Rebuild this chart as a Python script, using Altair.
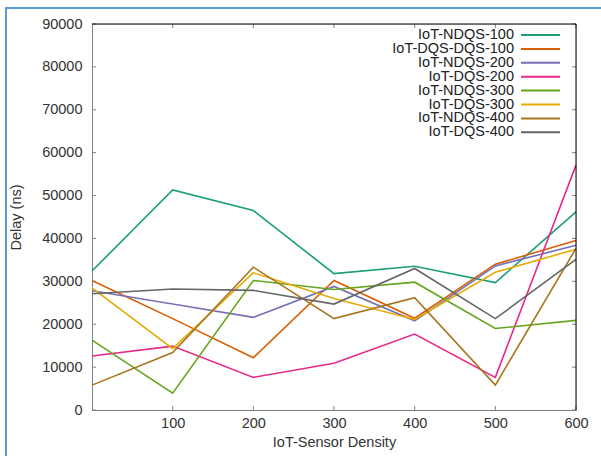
import altair as alt
import pandas as pd

# Sensor densities on the x axis
density = [0, 100, 200, 300, 400, 500, 600]

series_names = [
    "IoT-NDQS-100", "IoT-DQS-DQS-100", "IoT-NDQS-200", "IoT-DQS-200",
    "IoT-NDQS-300", "IoT-DQS-300", "IoT-NDQS-400", "IoT-DQS-400",
]
series_colors = [
    "#1b9e77", "#d95f02", "#7570b3", "#e7298a",
    "#66a61e", "#e6ab02", "#a6761d", "#666666",
]

# Delay (ns) per series, one value per density
ndqs_100 = [32400, 51300, 46500, 31800, 33500, 29700, 46200]
dqs_dqs_100 = [30200, 21300, 12200, 30200, 21400, 34000, 39500]
ndqs_200 = [27800, 24700, 21600, 28800, 20800, 33600, 38400]
dqs_200 = [12600, 14900, 7600, 10900, 17700, 7600, 57100]
ndqs_300 = [16300, 3900, 30200, 28100, 29800, 19000, 20900]
dqs_300 = [28500, 14300, 32000, 26000, 21100, 32100, 37500]
ndqs_400 = [5800, 13400, 33300, 21300, 26200, 5800, 37700]
dqs_400 = [27100, 28200, 27900, 24700, 33000, 21300, 35100]

all_series = [ndqs_100, dqs_dqs_100, ndqs_200, dqs_200,
              ndqs_300, dqs_300, ndqs_400, dqs_400]

x_ticks = [100, 200, 300, 400, 500, 600]
y_ticks = [0, 10000, 20000, 30000, 40000, 50000, 60000, 70000, 80000, 90000]

rows = []
for name, vals in zip(series_names, all_series):
    for d, v in zip(density, vals):
        rows.append({"series": name, "density": d, "delay": v})
df = pd.DataFrame(rows)

legend_df = pd.DataFrame({"series": series_names, "rank": list(range(len(series_names)))})

W, H = 484, 386
FONT = "Liberation Sans"
TEXT = "#333333"
AXIS_GRAY = "#808080"

x_scale = alt.Scale(domain=[0, 600], nice=False)
y_scale = alt.Scale(domain=[0, 90000], nice=False)
color_scale = alt.Scale(domain=series_names, range=series_colors)

x_axis = alt.Axis(
    values=x_ticks, format="d", ticks=False, grid=False, labelFlush=False,
    domainColor=AXIS_GRAY, labelFont=FONT, labelFontSize=14.5, labelColor=TEXT,
    labelPadding=6, title="IoT-Sensor Density", titleFont=FONT, titleFontSize=14.5,
    titleFontWeight="normal", titleColor=TEXT, titlePadding=6,
)
y_axis = alt.Axis(
    values=y_ticks, format="d", ticks=False, grid=False, labelFlush=False,
    domainColor=AXIS_GRAY, labelFont=FONT, labelFontSize=14.5, labelColor=TEXT,
    labelPadding=10, title="Delay (ns)", titleFont=FONT, titleFontSize=14.5,
    titleFontWeight="normal", titleColor=TEXT, titlePadding=18,
)

lines = alt.Chart(df).mark_line(strokeWidth=1.6).encode(
    x=alt.X("density:Q", scale=x_scale, axis=x_axis),
    y=alt.Y("delay:Q", scale=y_scale, axis=y_axis),
    color=alt.Color("series:N", scale=color_scale, legend=None),
)

# Inward tick marks on all four sides
xt_df = pd.DataFrame({"density": x_ticks})
yt_df = pd.DataFrame({"delay": y_ticks})
tick_style = dict(color=AXIS_GRAY, strokeWidth=1)

x_ticks_bottom = alt.Chart(xt_df).mark_rule(**tick_style).encode(
    x=alt.X("density:Q", scale=x_scale, axis=x_axis),
    y=alt.value(H), y2=alt.value(H - 4),
)
x_ticks_top = alt.Chart(xt_df).mark_rule(**tick_style).encode(
    x=alt.X("density:Q", scale=x_scale, axis=x_axis),
    y=alt.value(0), y2=alt.value(4),
)
y_ticks_left = alt.Chart(yt_df).mark_rule(**tick_style).encode(
    y=alt.Y("delay:Q", scale=y_scale, axis=y_axis),
    x=alt.value(0), x2=alt.value(4),
)
y_ticks_right = alt.Chart(yt_df).mark_rule(**tick_style).encode(
    y=alt.Y("delay:Q", scale=y_scale, axis=y_axis),
    x=alt.value(W), x2=alt.value(W - 4),
)

one = pd.DataFrame({"k": [0]})
border_top = alt.Chart(one).mark_rule(color="#000000", strokeWidth=1).encode(
    x=alt.value(0), x2=alt.value(W), y=alt.value(0)
)
border_right = alt.Chart(one).mark_rule(color="#000000", strokeWidth=1).encode(
    x=alt.value(W), y=alt.value(0), y2=alt.value(H)
)

# Light blue page frame
frame_left = alt.Chart(one).mark_rule(color="#5b9bd5", strokeWidth=2).encode(
    x=alt.value(-86), y=alt.value(-16), y2=alt.value(450)
)
frame_top = alt.Chart(one).mark_rule(color="#5b9bd5", strokeWidth=2).encode(
    x=alt.value(-87), x2=alt.value(520), y=alt.value(-16)
)

main = alt.layer(
    lines, x_ticks_bottom, x_ticks_top, y_ticks_left, y_ticks_right,
    border_top, border_right, frame_left, frame_top,
)

# Key in the top-right corner: label, then a line sample
leg_y = alt.Y("rank:Q", scale=alt.Scale(domain=[0, 7], range=[11, 108.3]), axis=None)
leg_text = alt.Chart(legend_df).mark_text(
    align="right", baseline="middle", font=FONT, fontSize=14.5, color="#222222"
).encode(x=alt.value(422), y=leg_y, text="series:N")
leg_line = alt.Chart(legend_df).mark_rule(strokeWidth=2).encode(
    x=alt.value(429), x2=alt.value(468), y=leg_y,
    color=alt.Color("series:N", scale=color_scale, legend=None),
)
key = alt.layer(leg_text, leg_line)

chart = alt.layer(main, key).resolve_scale(y="independent").properties(
    width=W, height=H,
    autosize=alt.AutoSizeParams(type="none"),
    padding={"left": 92, "top": 24, "right": 25, "bottom": 46},
).configure_view(stroke=None).configure(font=FONT)

chart.save("out.html", embed_options={"renderer": "svg", "actions": False})
